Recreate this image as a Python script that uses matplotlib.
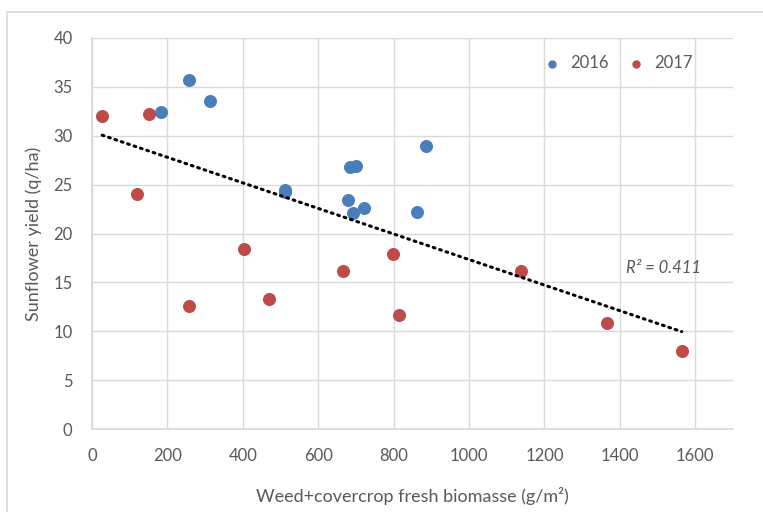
import numpy as np
import matplotlib
matplotlib.use("Agg")
from matplotlib import pyplot as plt
from matplotlib.patches import Rectangle

# 2016 season
x_2016 = [256, 314, 184, 886, 685, 699, 512, 512, 678, 692, 722, 862]
y_2016 = [35.7, 33.6, 32.4, 29.0, 26.8, 26.9, 24.5, 24.2, 23.4, 22.1, 22.6, 22.2]

# 2017 season
x_2017 = [27, 150, 120, 258, 402, 470, 665, 797, 814, 1137, 1367, 1564]
y_2017 = [32.0, 32.2, 24.0, 12.6, 18.4, 13.3, 16.2, 17.9, 11.7, 16.2, 10.8, 8.0]

years = ["2016", "2017"]
colors = ["#4A7EBB", "#BE4B48"]
r2_label = "R² = 0.411"

plt.rcParams['font.family'] = ['Lato', 'DejaVu Sans']
txt_col = "#595959"
grid_col = "#D9D9D9"

fig = plt.figure(figsize=(7.63, 5.12), dpi=100)
# outer chart border (cut on right/bottom)
fig.patches.append(Rectangle((7/763, -0.1), 1.2, 1 - 12/512 + 0.1, transform=fig.transFigure,
                             fill=False, edgecolor=grid_col, lw=1.2))
ax = fig.add_axes([92/763, 1 - 429/512, (733 - 92)/763, (429 - 38)/512])

ax.scatter(x_2016, y_2016, s=70, color=colors[0], zorder=3, label=years[0])
ax.scatter(x_2017, y_2017, s=70, color=colors[1], zorder=3, label=years[1])

# linear trend over both years
xs = np.array(x_2016 + x_2017, dtype=float)
ys = np.array(y_2016 + y_2017, dtype=float)
k, b = np.polyfit(xs, ys, 1)
xl = np.array([xs.min(), xs.max()])
ax.plot(xl, k*xl + b, color="black", lw=2.2, ls=(0, (0.6, 1.6)),
        dash_capstyle="round", zorder=4)
ax.text(1415, 16.0, r2_label, fontsize=12, style="italic", color=txt_col)

ax.set_xlim(0, 1700)
ax.set_ylim(0, 40)
ax.set_xticks(range(0, 1700, 200))
ax.set_yticks(range(0, 41, 5))
ax.grid(True, color=grid_col, lw=1)
ax.set_axisbelow(True)
for s in ["top", "right"]:
    ax.spines[s].set_visible(False)
for s in ["left", "bottom"]:
    ax.spines[s].set_color(grid_col)
    ax.spines[s].set_linewidth(1.2)
ax.tick_params(length=0, labelsize=12, colors=txt_col, pad=14)

ax.set_xlabel("Weed+covercrop fresh biomasse (g/m²)", fontsize=13, color=txt_col, labelpad=16)
ax.set_ylabel("Sunflower yield (q/ha)", fontsize=13, color=txt_col, labelpad=8)

ax.legend(loc="upper right", bbox_to_anchor=(0.96, 0.995), ncol=2, frameon=False,
          fontsize=12, markerscale=0.6, handletextpad=0.1, columnspacing=0.6,
          labelcolor=txt_col)

fig.savefig("out.png", dpi=100)
